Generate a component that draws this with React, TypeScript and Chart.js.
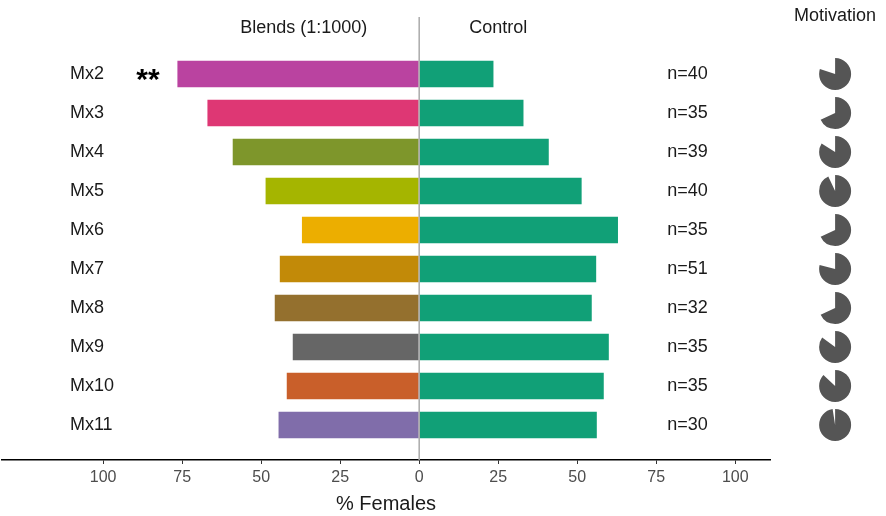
import React, { useEffect, useRef } from "react";
import { Chart, registerables } from "chart.js";

Chart.register(...registerables);

const categories = ["Mx2", "Mx3", "Mx4", "Mx5", "Mx6", "Mx7", "Mx8", "Mx9", "Mx10", "Mx11"];
const blendPct = [76.5, 67, 59, 48.6, 37.1, 44.1, 45.7, 40, 41.9, 44.5];
const controlPct = [23.5, 33, 41, 51.4, 62.9, 56, 54.6, 60, 58.4, 56.2];
const sampleSizes = [40, 35, 39, 40, 35, 51, 32, 35, 35, 30];
const motivation = [0.8, 0.68, 0.84, 0.93, 0.68, 0.79, 0.68, 0.85, 0.87, 0.975];
const significance = ["**", "", "", "", "", "", "", "", "", ""];
const tickValues = [-100, -75, -50, -25, 0, 25, 50, 75, 100];

const blendColors = [
  "#BA43A0",
  "#DE3774",
  "#7E962B",
  "#A5B500",
  "#ECAE00",
  "#C28A08",
  "#94702E",
  "#666666",
  "#C95F2A",
  "#806DAA",
];
const controlColor = "#11A077";
const pieColor = "#555555";
const FONT = "'Liberation Sans', Arial, sans-serif";

const overlayPlugin = {
  id: "overlay",
  afterDatasetsDraw(chart: any) {
    const { ctx, chartArea, scales } = chart;
    const xs = scales.x;
    const x0 = xs.getPixelForValue(0);
    ctx.save();
    ctx.strokeStyle = "#AAAAAA";
    ctx.lineWidth = 1.5;
    ctx.beginPath();
    ctx.moveTo(x0, chartArea.top);
    ctx.lineTo(x0, chartArea.bottom);
    ctx.stroke();
    ctx.restore();
  },
  afterDraw(chart: any) {
    const { ctx, scales } = chart;
    const xs = scales.x;
    const ys = scales.y;
    ctx.save();
    ctx.fillStyle = "#1A1A1A";
    ctx.textBaseline = "middle";
    ctx.font = `18px ${FONT}`;
    ctx.textAlign = "center";
    const hy = ys.getPixelForValue(-1.19);
    ctx.fillText("Blends (1:1000)", xs.getPixelForValue(-36.5), hy);
    ctx.fillText("Control", xs.getPixelForValue(25), hy);
    ctx.fillText("Motivation", xs.getPixelForValue(131.6), ys.getPixelForValue(-1.49));
    categories.forEach((c, i) => {
      const y = ys.getPixelForValue(i);
      ctx.font = `18px ${FONT}`;
      ctx.fillStyle = "#1A1A1A";
      ctx.textAlign = "left";
      ctx.fillText(c, xs.getPixelForValue(-110.5), y);
      ctx.fillText("n=" + sampleSizes[i], xs.getPixelForValue(78.5), y);
      if (significance[i]) {
        ctx.textAlign = "center";
        ctx.font = `bold 30px ${FONT}`;
        ctx.fillStyle = "#000000";
        ctx.fillText(significance[i], xs.getPixelForValue(-85.8), y + 7);
      }
      const cx = xs.getPixelForValue(131.6);
      const r = 16;
      ctx.fillStyle = pieColor;
      ctx.beginPath();
      ctx.moveTo(cx, y);
      ctx.arc(cx, y, r, -Math.PI / 2, -Math.PI / 2 + 2 * Math.PI * motivation[i]);
      ctx.closePath();
      ctx.fill();
    });
    ctx.restore();
  },
};

export default function App() {
  const ref = useRef<HTMLCanvasElement | null>(null);
  useEffect(() => {
    document.body.style.margin = "0";
    if (!ref.current) return;
    const chart = new Chart(ref.current, {
      type: "bar",
      data: {
        datasets: [
          {
            label: "Blends (1:1000)",
            data: blendPct.map((v, i) => ({ x: -v, y: i })),
            backgroundColor: blendColors,
            borderWidth: 0,
          },
          {
            label: "Control",
            data: controlPct.map((v, i) => ({ x: v, y: i })),
            backgroundColor: controlColor,
            borderWidth: 0,
          },
        ],
      },
      options: {
        responsive: false,
        animation: false,
        indexAxis: "y",
        categoryPercentage: 1,
        barPercentage: 0.68,
        layout: { padding: { left: 2, right: 116, top: 17, bottom: 0 } },
        plugins: { legend: { display: false }, tooltip: { enabled: false } },
        scales: {
          y: {
            type: "linear",
            reverse: true,
            min: -1.463,
            max: 9.9,
            offset: false,
            grid: { offset: false },
            stacked: true,
            display: false,
          },
          x: {
            type: "linear",
            min: -132,
            max: 111,
            stacked: true,
            afterBuildTicks: (scale: any) => {
              scale.ticks = tickValues.map((v) => ({ value: v }));
            },
            grid: {
              drawOnChartArea: false,
              drawTicks: true,
              tickLength: 4,
              color: "#333333",
              lineWidth: 1,
            },
            border: { display: true, color: "#000000", width: 1.5 },
            ticks: {
              autoSkip: false,
              maxRotation: 0,
              padding: 6,
              color: "#4D4D4D",
              font: { family: FONT, size: 16, lineHeight: 1.0 },
              callback: (v: any) => String(Math.abs(Number(v))),
            },
            title: {
              display: true,
              text: "% Females",
              color: "#1A1A1A",
              font: { family: FONT, size: 20 },
              padding: { top: 0, bottom: 0 },
            },
          },
        },
      } as any,
      plugins: [overlayPlugin],
    });
    return () => chart.destroy();
  }, []);
  return (
    <div style={{ width: 886, height: 516 }}>
      <canvas ref={ref} width={886} height={516} style={{ display: "block" }} />
    </div>
  );
}
